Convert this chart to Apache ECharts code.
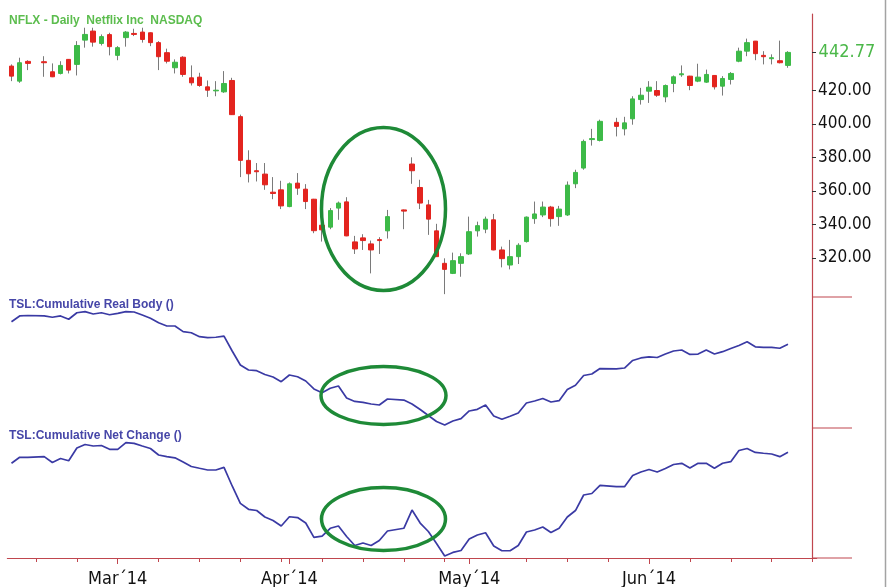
<!DOCTYPE html>
<html>
<head>
<meta charset="utf-8">
<script src="https://cdn.jsdelivr.net/npm/echarts@6/dist/echarts.min.js"></script>
<style>
  html, body { margin: 0; padding: 0; background: #fff; }
  #chart { width: 888px; height: 587px; }
</style>
</head>
<body>
<div id="chart"></div>
<script>
// Trading calendar: one slot per weekday, market holidays stay as empty slots
const firstDay = '2014-02-12';
const lastDay = '2014-06-30';
function weekdaysBetween(a, b) {
  const out = [];
  const d = new Date(a + 'T00:00:00Z');
  const end = new Date(b + 'T00:00:00Z');
  while (d <= end) {
    const wd = d.getUTCDay();
    if (wd !== 0 && wd !== 6) out.push(d.toISOString().slice(0, 10));
    d.setUTCDate(d.getUTCDate() + 1);
  }
  return out;
}
const dates = weekdaysBetween(firstDay, lastDay);

// NFLX daily [open, close, low, high]; null = market closed
const ohlc = [
  [434.6, 428.6, 425.6, 435.6], [425.6, 436.6, 424.6, 439.6], [437.4, 436.2, 432.2, 438.1],
  null,
  [437.2, 436.6, 428.2, 440.5], [431.2, 428.2, 428.0, 436.2], [430.2, 435.0, 429.6, 437.5],
  [438.6, 432.2, 430.2, 438.8], [435.6, 446.9, 429.0, 449.5], [450.1, 453.5, 445.6, 457.5],
  [455.5, 448.9, 446.2, 457.5], [448.1, 452.2, 446.9, 453.5], [453.4, 446.2, 441.0, 454.5],
  [441.0, 445.6, 438.1, 446.5], [451.6, 454.9, 446.2, 455.5], [454.1, 453.5, 452.5, 456.9],
  [454.9, 450.5, 448.6, 457.5], [454.5, 448.6, 446.5, 454.7], [448.6, 440.2, 432.2, 449.5],
  [442.6, 437.5, 436.2, 445.0], [433.6, 436.9, 430.2, 438.6], [439.9, 429.6, 428.2, 440.5],
  [427.6, 424.6, 423.0, 435.0], [428.0, 423.0, 422.2, 430.6], [422.2, 420.2, 416.2, 426.0],
  [419.8, 420.2, 416.6, 425.6], [419.2, 424.2, 418.6, 431.6], [426.0, 405.6, 405.4, 427.6],
  [404.4, 378.3, 368.3, 405.6], [378.3, 370.3, 365.1, 384.3], [372.1, 371.5, 365.7, 376.7],
  [370.1, 363.7, 360.7, 376.7], [359.3, 358.5, 355.1, 368.3], [360.7, 351.1, 349.2, 366.1],
  [350.7, 364.3, 350.3, 365.1], [364.7, 361.7, 357.7, 370.7], [361.1, 353.7, 349.2, 364.1],
  [355.1, 336.3, 334.8, 355.3], [339.6, 336.8, 329.8, 342.8], [338.4, 348.3, 337.2, 349.8],
  [349.8, 352.8, 342.8, 353.7], [353.5, 333.2, 333.0, 356.3], [329.6, 325.4, 322.4, 333.2],
  [332.0, 330.4, 324.8, 334.2], [328.4, 324.8, 310.8, 330.4], [331.0, 330.4, 322.4, 332.4],
  [336.2, 344.7, 331.6, 348.7],
  null,
  [348.7, 348.0, 337.2, 348.9], [376.1, 372.1, 364.3, 380.1], [362.1, 352.8, 349.2, 366.7],
  [351.7, 343.2, 333.8, 354.7], [336.2, 320.8, 320.6, 340.4], [316.8, 313.2, 298.4, 319.8],
  [310.8, 318.4, 310.4, 323.2], [316.8, 320.8, 308.8, 322.8], [322.4, 335.7, 321.8, 344.7],
  [336.2, 339.3, 332.8, 341.7], [337.2, 343.2, 334.8, 344.7], [342.8, 324.8, 324.6, 346.3],
  [324.8, 319.6, 314.4, 326.8], [315.8, 320.8, 313.2, 330.8], [320.8, 327.6, 316.4, 328.8],
  [329.8, 344.4, 329.2, 344.8], [343.5, 346.3, 340.4, 353.7], [345.7, 350.4, 344.4, 353.7],
  [350.4, 343.5, 338.7, 351.1], [344.7, 349.2, 339.2, 351.1], [345.7, 363.5, 345.1, 365.7],
  [364.3, 371.1, 361.7, 372.7], [373.7, 389.6, 372.7, 390.7], [390.7, 391.3, 387.1, 397.1],
  [390.2, 401.6, 389.6, 402.6],
  null,
  [401.0, 398.6, 392.6, 403.7], [397.1, 400.7, 393.2, 404.3], [403.1, 415.0, 399.6, 416.6],
  [414.6, 417.2, 411.6, 421.6], [419.6, 422.0, 412.6, 425.6], [420.0, 417.2, 416.2, 425.6],
  [416.2, 423.0, 413.0, 423.6], [424.2, 428.2, 419.0, 429.0], [429.4, 430.0, 428.2, 435.0],
  [428.6, 423.0, 420.2, 428.8], [425.6, 428.0, 425.0, 436.0], [425.0, 429.6, 424.6, 432.5],
  [429.0, 422.2, 420.6, 429.1], [422.6, 427.2, 417.0, 428.6], [426.6, 430.2, 423.6, 431.0],
  [437.5, 443.5, 436.9, 445.6], [443.5, 448.6, 440.5, 451.0], [449.5, 442.0, 438.1, 449.6],
  [441.0, 440.2, 435.6, 443.5], [439.0, 439.6, 435.6, 441.6], [437.8, 436.6, 436.2, 449.8],
  [435.0, 442.77, 433.6, 443.5]
];

// TSL: Cumulative Real Body
const realBody = [
  -3.3, 3.3, 3.8, null, 3.3, 1.8, 3.3, -0.5, 7.0, 8.2, 5.5, 7.0, 4.7,
  6.3, 8.2, 7.8, 4.4, 0.6, -4.4, -8.2, -8.2, -14.7, -15.9, -20.4, -21.6, -21.1, -19.7, -36.8, -52.9, -58.6, -59.4, -63.7, -66.6, -72.0,
  -64.3, -66.3, -71.2, -80.3, -84.6, -79.5, -76.9, -90.6, -94.6, -95.6, -97.5, -98.7, -91.8, null, -93.0, -97.5, -103.8, -110.7, -117.5, -121.6, -117.0, -114.3,
  -105.5, -103.6, -98.7, -111.2, -115.0, -111.5, -107.8, -96.4, -94.1, -91.2, -95.2, -93.7, -80.9, -76.0, -64.9, -63.2, -56.9, null, -57.4, -56.3, -47.7, -44.8,
  -43.5, -44.3, -40.3, -36.8, -35.7, -40.8, -40.3, -35.7, -40.3, -37.6, -34.0, -30.5, -26.3, -32.0, -32.6, -32.6, -33.7, -29.1
];

// TSL: Cumulative Net Change
const netChange = [
  -1.7, 5.7, 5.7, null, 6.5, -0.7, 4.2, 1.5, 17.2, 21.6, 19.7, 20.3, 15.6,
  15.6, 23.8, 23.0, 19.7, 16.6, 8.6, 6.5, 5.1, -0.1, -5.7, -7.9, -10.0, -10.0, -6.7, -29.8, -51.3, -58.7, -60.2, -68.2, -72.5, -79.4,
  -67.9, -68.9, -75.7, -93.4, -91.8, -82.2, -79.4, -92.4, -103.5, -100.4, -103.5, -97.3, -85.6, null, -82.2, -59.6, -75.7, -86.2, -101.0, -116.5, -112.1, -109.7,
  -95.5, -90.5, -87.7, -104.1, -110.0, -110.0, -103.5, -86.8, -84.3, -80.6, -87.4, -82.2, -68.2, -60.2, -41.0, -39.1, -29.0, null, -30.7, -30.7, -16.8, -12.5,
  -9.4, -12.5, -8.2, -3.2, -1.7, -7.5, -1.7, -1.7, -7.9, -1.7, 0.3, 14.1, 16.6, 11.7, 10.7, 9.8, 6.5, 11.9
];

const priceTicks = [320, 340, 360, 380, 400, 420];
const monthNames = ['Jan', 'Feb', 'Mar', 'Apr', 'May', 'Jun', 'Jul', 'Aug', 'Sep', 'Oct', 'Nov', 'Dec'];

// ---- styling ----
const AXIS_RED = '#c0464e';
const UP = '#3dba48';
const DOWN = '#e3241f';
const WICK = '#7a7a7a';
const BLUE = '#3a3aa4';
const RING = '#1e8a37';
const NARROW = "'Liberation Sans Narrow', 'Arial Narrow', 'DejaVu Sans Condensed', 'Roboto Condensed', sans-serif";
const BOLD = "'Liberation Sans', Arial, sans-serif";
const SCALE_FONT = 17;

const GRID_LEFT = 7.4, GRID_W = 809.2;
const AXIS_X = 812;

const wickData = ohlc.map(d => d ? [d[0], d[1], d[2], d[3]] : '-');
const bodyData = ohlc.map(d => d ? [d[0], d[1], Math.min(d[0], d[1]), Math.max(d[0], d[1])] : '-');
const lastClose = ohlc[ohlc.length - 1][1];
const gap = v => (v == null ? '-' : v);

const isMonthStart = i => i > 0 && dates[i].slice(5, 7) !== dates[i - 1].slice(5, 7);
const isMonday = i => new Date(dates[i] + 'T00:00:00Z').getUTCDay() === 1;
// weekly ticks on Mondays; a Monday right after a month label gets none
const isWeekTick = i => isMonday(i) && !isMonthStart(i) && !isMonthStart(i - 1) && !isMonthStart(i - 2);

const chart = echarts.init(document.getElementById('chart'), null, { renderer: 'canvas' });

const hiddenX = g => ({ type: 'category', gridIndex: g, data: dates, show: false, axisLine: { onZero: false } });
const sideY = (g, min, max) => ({
  type: 'value', gridIndex: g, position: 'right', offset: AXIS_X - (GRID_LEFT + GRID_W),
  min: min, max: max,
  axisLine: { show: true, onZero: false, lineStyle: { color: AXIS_RED, width: 1.2 } },
  axisTick: { show: false }, axisLabel: { show: false }, splitLine: { show: false }
});

const priceAxis = sideY(0, 296.7, 465.7);
priceAxis.axisTick = { show: true, customValues: priceTicks.concat([lastClose]), length: 4, lineStyle: { color: '#333', width: 1 } };
priceAxis.axisLabel = {
  show: true, customValues: priceTicks, formatter: v => v.toFixed(2),
  color: '#111', fontSize: SCALE_FONT, fontFamily: NARROW, margin: 6
};

const titleStyle = color => ({ color: color, fontSize: 12, fontWeight: 'bold', fontFamily: BOLD });

chart.setOption({
  animation: false,
  backgroundColor: '#fff',
  title: [
    { text: 'NFLX - Daily  Netflix Inc  NASDAQ', left: 9, top: 15, padding: 0, textStyle: titleStyle('#5cbd4e') },
    { text: 'TSL:Cumulative Real Body ()', left: 9, top: 299, padding: 0, textStyle: titleStyle('#4646a8') },
    { text: 'TSL:Cumulative Net Change ()', left: 9, top: 430, padding: 0, textStyle: titleStyle('#4646a8') }
  ],
  grid: [
    { left: GRID_LEFT, width: GRID_W, top: 14, height: 283, outerBoundsMode: 'none', containLabel: false },
    { left: GRID_LEFT, width: GRID_W, top: 297, height: 131, outerBoundsMode: 'none', containLabel: false },
    { left: GRID_LEFT, width: GRID_W, top: 428, height: 130, outerBoundsMode: 'none', containLabel: false }
  ],
  xAxis: [
    hiddenX(0),
    hiddenX(1),
    {
      type: 'category', gridIndex: 2, data: dates, position: 'bottom',
      axisLine: { show: true, onZero: false, lineStyle: { color: AXIS_RED, width: 1.2 } },
      axisTick: { show: true, alignWithLabel: true, interval: i => isMonthStart(i), length: 6,
                  lineStyle: { color: AXIS_RED, width: 1 } },
      axisLabel: {
        interval: i => isMonthStart(i), margin: 12,
        formatter: v => monthNames[+v.slice(5, 7) - 1] + '\u00B4' + v.slice(2, 4),
        color: '#111', fontSize: SCALE_FONT + 1, fontFamily: NARROW
      },
      splitLine: { show: false }
    },
    {
      type: 'category', gridIndex: 2, data: dates, position: 'bottom',
      axisLine: { show: false, onZero: false },
      axisTick: { show: true, alignWithLabel: true, interval: i => isWeekTick(i), length: 4,
                  lineStyle: { color: AXIS_RED, width: 1 } },
      axisLabel: { show: false }, splitLine: { show: false }
    }
  ],
  yAxis: [
    priceAxis,
    sideY(1, -125, 25),
    sideY(2, -119, 42)
  ],
  series: [
    {
      name: 'range', type: 'candlestick', xAxisIndex: 0, yAxisIndex: 0, data: wickData,
      barWidth: 1, silent: true,
      itemStyle: { color: WICK, color0: WICK, borderColor: WICK, borderColor0: WICK, borderWidth: 1 }
    },
    {
      name: 'NFLX', type: 'candlestick', xAxisIndex: 0, yAxisIndex: 0, data: bodyData,
      barWidth: 5, silent: true,
      itemStyle: { color: UP, color0: DOWN, borderColor: UP, borderColor0: DOWN, borderWidth: 1 },
      markLine: {
        silent: true, symbol: ['none', 'none'],
        lineStyle: { color: 'rgba(0,0,0,0)', width: 1, type: 'solid' },
        label: { show: true, position: 'end', distance: 2, formatter: p => Number(p.value).toFixed(2),
                 color: '#4cb84a', fontSize: SCALE_FONT + 1, fontFamily: NARROW },
        data: [{ yAxis: lastClose }]
      }
    },
    {
      name: 'Cumulative Real Body', type: 'line', xAxisIndex: 1, yAxisIndex: 1,
      data: realBody.map(gap), connectNulls: true, symbol: 'none', silent: true,
      lineStyle: { color: BLUE, width: 1.7 }
    },
    {
      name: 'Cumulative Net Change', type: 'line', xAxisIndex: 2, yAxisIndex: 2,
      data: netChange.map(gap), connectNulls: true, symbol: 'none', silent: true,
      lineStyle: { color: BLUE, width: 1.7 }
    }
  ],
  graphic: [
    // pane separators on the price scale side
    { type: 'line', silent: true, shape: { x1: AXIS_X, y1: 297, x2: 852, y2: 297 }, style: { stroke: AXIS_RED, lineWidth: 1.2 } },
    { type: 'line', silent: true, shape: { x1: AXIS_X, y1: 428, x2: 852, y2: 428 }, style: { stroke: AXIS_RED, lineWidth: 1.2 } },
    { type: 'line', silent: true, shape: { x1: AXIS_X, y1: 558, x2: 852, y2: 558 }, style: { stroke: AXIS_RED, lineWidth: 1.2 } },
    // outer frame edge
    { type: 'line', silent: true, shape: { x1: 885.5, y1: 0, x2: 885.5, y2: 587 }, style: { stroke: '#a3a3a3', lineWidth: 1.5 } },
    // highlighted consolidation zone in each pane
    { type: 'ellipse', silent: true, z: 100, shape: { cx: 383.5, cy: 209, rx: 62, ry: 81.5 }, style: { fill: 'none', stroke: RING, lineWidth: 3.5 } },
    { type: 'ellipse', silent: true, z: 100, shape: { cx: 383.5, cy: 395.5, rx: 62.5, ry: 29 }, style: { fill: 'none', stroke: RING, lineWidth: 3.5 } },
    { type: 'ellipse', silent: true, z: 100, shape: { cx: 383.5, cy: 519, rx: 62, ry: 31.5 }, style: { fill: 'none', stroke: RING, lineWidth: 3.5 } }
  ]
});
</script>
</body>
</html>
